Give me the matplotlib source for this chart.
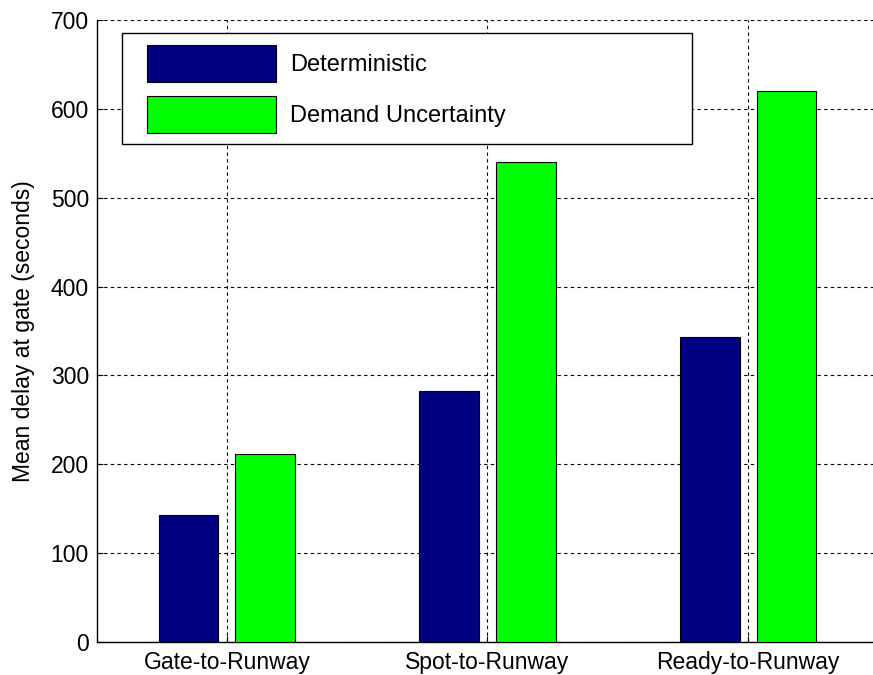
import matplotlib
matplotlib.use("Agg")
import matplotlib.pyplot as plt
from matplotlib.patches import Rectangle
from matplotlib.legend_handler import HandlerPatch
import numpy as np

# 字體：Arial 的替代
plt.rcParams['font.family'] = ['Liberation Sans', 'DejaVu Sans']

# 資料
categories = ['Gate-to-Runway', 'Spot-to-Runway', 'Ready-to-Runway']
deterministic = [143, 282, 343]
demand_uncertainty = [212, 540, 620]
series_names = ['Deterministic', 'Demand Uncertainty']
y_ticks = [0, 100, 200, 300, 400, 500, 600, 700]

fig = plt.figure(figsize=(8.73, 6.75), dpi=100)
ax = fig.add_axes([96.5 / 873, 33 / 675, 782 / 873, 622 / 675])

x = np.arange(1, len(categories) + 1)
width = 0.23
offset = 0.147
bars1 = ax.bar(x - offset, deterministic, width, color='#000080', edgecolor='black',
               linewidth=0.8, zorder=3)
bars2 = ax.bar(x + offset, demand_uncertainty, width, color='#00ff00', edgecolor='black',
               linewidth=0.8, zorder=3)

ax.set_xlim(0.5, 3.5)
ax.set_ylim(0, 700)
ax.set_xticks(x)
ax.set_xticklabels(categories)
ax.set_yticks(y_ticks)
ax.tick_params(direction='in', length=4, labelsize=16.5, colors='black')
ax.tick_params(axis='y', pad=5.5)
ax.tick_params(axis='x', pad=6.5)
ax.set_ylabel('Mean delay at gate (seconds)', fontsize=16.5, labelpad=11)

# MATLAB 風格虛線網格
ax.grid(True, color='black', linestyle=(0, (3, 3)), linewidth=0.8, zorder=0)
ax.spines['top'].set_visible(False)
ax.spines['right'].set_visible(False)
ax.spines['left'].set_linewidth(1.0)
ax.spines['bottom'].set_linewidth(1.0)


# 圖例色塊左側多留一點空間
def shifted_patch(legend, orig_handle, xdescent, ydescent, width, height, fontsize):
    shift = 10
    return Rectangle((-xdescent + shift, -ydescent), width - shift, height)


leg = ax.legend([bars1[0], bars2[0]], series_names,
                loc='upper left', bbox_to_anchor=(0.032, 0, 0.729, 0.979),
                mode='expand', borderaxespad=0, fontsize=17,
                handlelength=6.05, handleheight=2.03, handletextpad=0.59,
                labelspacing=0.59, borderpad=0.5, fancybox=False,
                framealpha=1, edgecolor='black',
                handler_map={Rectangle: HandlerPatch(patch_func=shifted_patch)})
leg.get_frame().set_linewidth(1.0)

fig.savefig('out.png', dpi=100)
